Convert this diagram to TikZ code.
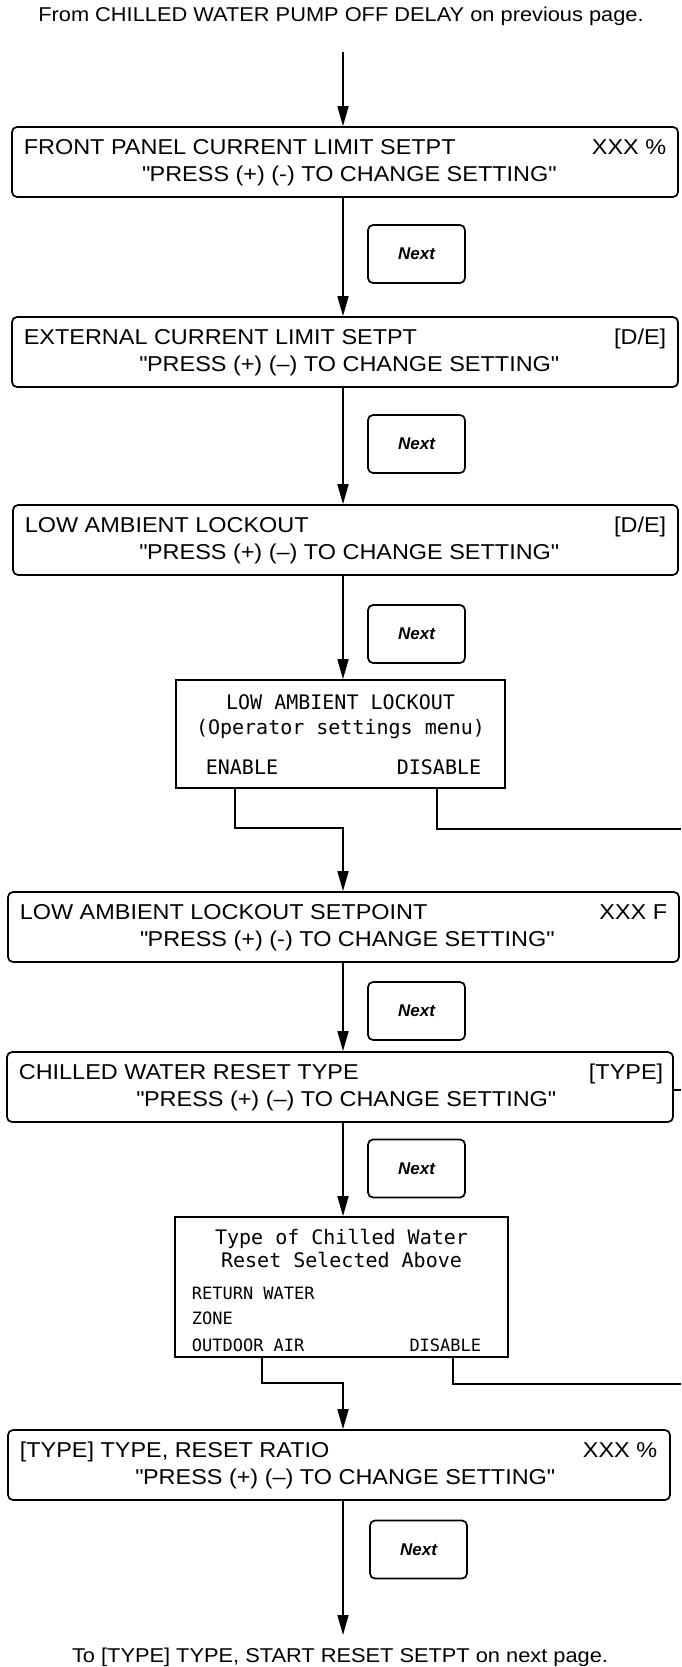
\documentclass[tikz,border=0pt]{standalone}
\usepackage{fontspec}
\setmainfont{Liberation Sans}
\newfontfamily\boxfont[FakeStretch=1.09]{Liberation Sans}
\newfontfamily\lcdfont{DejaVu Sans Mono}
\usetikzlibrary{arrows.meta}
\newcommand{\qq}{\textquotedbl}
\begin{document}
\begin{tikzpicture}[x=1pt,y=-1pt,line width=1.7pt,
  mainbox/.style={draw, rounded corners=5pt, minimum height=70pt, inner sep=0pt, minimum width=#1},
  nextbox/.style={draw, rounded corners=5pt, minimum width=97pt, minimum height=58pt, inner sep=0pt,
    font=\fontsize{17}{17}\selectfont\bfseries\itshape},
  menubox/.style={draw, inner sep=0pt},
  btxt/.style={inner sep=0pt, font=\boxfont\fontsize{21.5}{22}\selectfont},
  ptxt/.style={inner sep=0pt, font=\boxfont\fontsize{20}{22}\selectfont},
  lcd/.style={inner sep=0pt, font=\lcdfont\fontsize{20}{22}\selectfont},
  lcds/.style={inner sep=0pt, font=\lcdfont\fontsize{17}{19}\selectfont},
  arr/.style={-{Triangle[length=20pt,width=11pt]}}]
\useasboundingbox (0,0) rectangle (681,1667);

% page texts
\node[ptxt, anchor=base] (toptext) at (341,22) {From CHILLED WATER PUMP OFF DELAY on previous page.};
\node[ptxt, anchor=base] (bottext) at (340,1662) {To [TYPE] TYPE, START RESET SETPT on next page.};

% main boxes
\node[mainbox=666pt] (b1) at (345,162) {};
\node[mainbox=666pt] (b2) at (345,352) {};
\node[mainbox=665pt] (b3) at (345.5,540) {};
\node[mainbox=671pt] (b4) at (343.5,927) {};
\node[mainbox=666pt] (b5) at (340,1087) {};
\node[mainbox=662pt] (b6) at (339,1465) {};

% box texts
\node[btxt, anchor=base west] (b1l) at (23,154) {FRONT PANEL CURRENT LIMIT SETPT};
\node[btxt, anchor=base east] (b1r) at (667,154) {XXX \%};
\node[btxt, anchor=base] (b1p) at (349,181.5) {\qq PRESS (+) (-) TO CHANGE SETTING\qq};

\node[btxt, anchor=base west] (b2l) at (23,344) {EXTERNAL CURRENT LIMIT SETPT};
\node[btxt, anchor=base east] (b2r) at (667,344) {[D/E]};
\node[btxt, anchor=base] (b2p) at (349,371.5) {\qq PRESS (+) (\textendash) TO CHANGE SETTING\qq};

\node[btxt, anchor=base west] (b3l) at (24,532) {LOW AMBIENT LOCKOUT};
\node[btxt, anchor=base east] (b3r) at (667,532) {[D/E]};
\node[btxt, anchor=base] (b3p) at (349,559.5) {\qq PRESS (+) (\textendash) TO CHANGE SETTING\qq};

\node[btxt, anchor=base west] (b4l) at (19,919) {LOW AMBIENT LOCKOUT SETPOINT};
\node[btxt, anchor=base east] (b4r) at (668,919) {XXX F};
\node[btxt, anchor=base] (b4p) at (347,946.5) {\qq PRESS (+) (-) TO CHANGE SETTING\qq};

\node[btxt, anchor=base west] (b5l) at (18,1079) {CHILLED WATER RESET TYPE};
\node[btxt, anchor=base east] (b5r) at (664,1079) {[TYPE]};
\node[btxt, anchor=base] (b5p) at (346,1106.5) {\qq PRESS (+) (\textendash) TO CHANGE SETTING\qq};

\node[btxt, anchor=base west] (b6l) at (19,1457) {[TYPE] TYPE, RESET RATIO};
\node[btxt, anchor=base east] (b6r) at (658,1457) {XXX \%};
\node[btxt, anchor=base] (b6p) at (345,1484.5) {\qq PRESS (+) (\textendash) TO CHANGE SETTING\qq};

% Next boxes
\node[nextbox] (n1) at (416.5,254) {Next};
\node[nextbox] (n2) at (416.5,444) {Next};
\node[nextbox] (n3) at (416.5,634) {Next};
\node[nextbox] (n4) at (416.5,1011) {Next};
\node[nextbox] (n5) at (416.5,1168.5) {Next};
\node[nextbox] (n6) at (418.5,1549.5) {Next};

% menu boxes
\node[menubox, minimum width=329pt, minimum height=108pt] (m1) at (340.5,734) {};
\node[lcd, anchor=base] (m1a) at (340.5,709) {LOW AMBIENT LOCKOUT};
\node[lcd, anchor=base] (m1b) at (340.5,734) {(Operator settings menu)};
\node[lcd, anchor=base west] (m1en) at (205,774) {ENABLE};
\node[lcd, anchor=base east] (m1dis) at (482,774) {DISABLE};

\node[menubox, minimum width=333pt, minimum height=140pt] (m2) at (341.5,1287) {};
\node[lcd, anchor=base] (m2a) at (341.5,1244) {Type of Chilled Water};
\node[lcd, anchor=base] (m2b) at (341.5,1267) {Reset Selected Above};
\node[lcds, anchor=base west] (m2r) at (191,1299) {RETURN WATER};
\node[lcds, anchor=base west] (m2z) at (191,1324) {ZONE};
\node[lcds, anchor=base west] (m2o) at (191,1351) {OUTDOOR AIR};
\node[lcds, anchor=base east] (m2d) at (482,1351) {DISABLE};

% helper coordinates
\coordinate (ax) at (343,0);
\coordinate (s0) at (343,52);
\coordinate (enx) at (235,0);
\coordinate (ej) at (343,828);
\coordinate (d1x) at (437,0);
\coordinate (d1e) at (681,829);
\coordinate (oax) at (262,0);
\coordinate (oj) at (343,1383);
\coordinate (d2x) at (453,0);
\coordinate (d2e) at (681,1384);
\coordinate (stub) at (681,1090);
\coordinate (fin) at (343,1635);

% connectors
\draw[arr] (s0) -- (b1.north -| ax);
\draw[arr] (b1.south -| ax) -- (b2.north -| ax);
\draw[arr] (b2.south -| ax) -- (b3.north -| ax);
\draw[arr] (b3.south -| ax) -- (m1.north -| ax);
\draw[arr] (m1.south -| enx) |- (ej) -- (b4.north -| ax);
\draw (m1.south -| d1x) |- (d1e);
\draw[arr] (b4.south -| ax) -- (b5.north -| ax);
\draw (stub -| b5.east) -- (stub);
\draw[arr] (b5.south -| ax) -- (m2.north -| ax);
\draw[arr] (m2.south -| oax) |- (oj) -- (b6.north -| ax);
\draw (m2.south -| d2x) |- (d2e);
\draw[arr] (b6.south -| ax) -- (fin);
\end{tikzpicture}
\end{document}
